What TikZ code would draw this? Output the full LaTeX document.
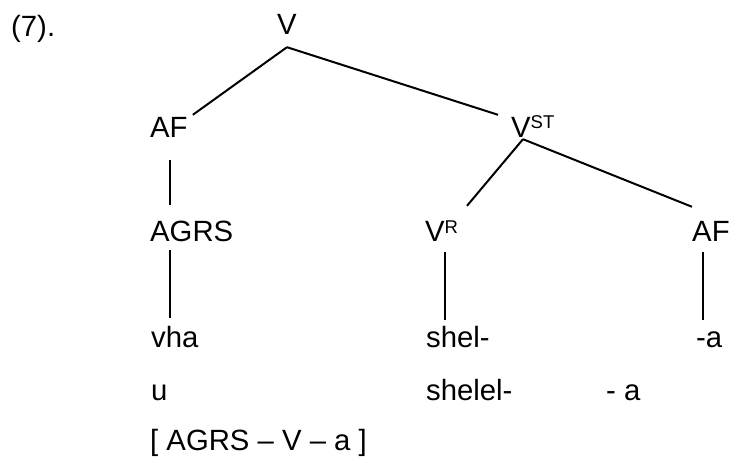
\documentclass[tikz,border=0pt]{standalone}
\usepackage{fontspec}
\setmainfont{Liberation Sans}
\newcommand{\upind}[1]{\raisebox{9pt}{\fontsize{18.5}{20}\selectfont #1}}

\begin{document}
\begin{tikzpicture}[x=1pt, y=-1pt,
  lab/.style={anchor=base west, inner sep=0pt, text height=21pt, text depth=0pt, font=\fontsize{29.3}{35}\selectfont},
  branch/.style={-, line width=2pt}]
  \useasboundingbox (0,0) rectangle (731,457);

  \node[lab] (ex) at (11,37) {(7).};
  \node[lab] (v) at (277,35) {V};

  \node[lab] (afl) at (150,138) {AF};
  \node[lab] (vst) at (511,138) {V\upind{ST}};

  \node[lab] (agrs) at (150,242) {AGRS};
  \node[lab] (vr) at (425,242) {V\upind{R}};
  \node[lab] (afr) at (692,242) {AF};

  \node[lab] (vha) at (151,347) {vha};
  \node[lab] (shel) at (426,347) {shel-};
  \node[lab] (suffa) at (696,347) {-a};

  \node[lab] (u) at (151,400) {u};
  \node[lab] (shelel) at (426,400) {shelel-};
  \node[lab] (suffb) at (606,400) {- a};

  \node[lab] (brk) at (150,450) {[ AGRS – V – a ]};

  \draw[branch] ([yshift=-12pt]v.south) -- ([xshift=5pt,yshift=2pt]afl.north east);
  \draw[branch] ([yshift=-12pt]v.south) -- ([xshift=-13pt,yshift=2pt]vst.north west);

  \draw[branch] ([xshift=12pt,yshift=-1pt]vst.south west) -- ([xshift=42pt,yshift=15pt]vr.north west);
  \draw[branch] ([xshift=12pt,yshift=-1pt]vst.south west) -- ([xshift=0pt,yshift=14pt]afr.north west);

  \draw[branch] ([xshift=20pt,yshift=-22pt]afl.south west) -- ([xshift=20pt,yshift=16pt]agrs.north west);
  \draw[branch] ([xshift=20pt,yshift=-8pt]agrs.south west) -- ([xshift=19pt,yshift=8pt]vha.north west);
  \draw[branch] ([xshift=20pt,yshift=-10pt]vr.south west) -- ([xshift=19pt,yshift=6pt]shel.north west);
  \draw[branch] ([xshift=11pt,yshift=-10pt]afr.south west) -- ([xshift=7pt,yshift=6pt]suffa.north west);
\end{tikzpicture}
\end{document}
